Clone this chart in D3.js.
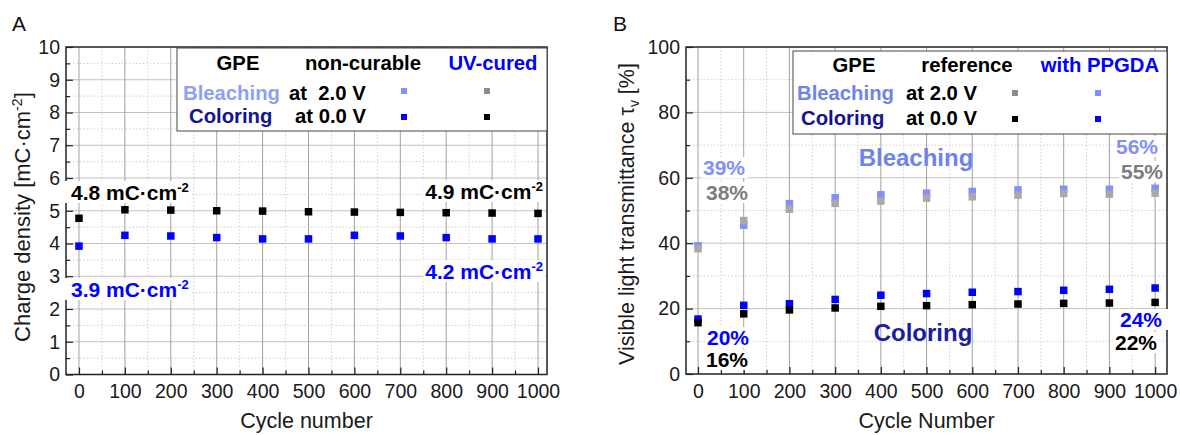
<!DOCTYPE html>
<html><head><meta charset="utf-8">
<script src="https://cdn.jsdelivr.net/npm/d3@7"></script>
<style>
body{margin:0;background:#fff}
svg{display:block}
text{font-family:"Liberation Sans",Arial,Helvetica,sans-serif}
</style>
</head><body>
<svg id="c" width="1180" height="435"></svg>
<script>
// ---------- DATA ----------
const cycles = [0,100,200,300,400,500,600,700,800,900,1000];
const xTickLabels = ["0","100","200","300","400","500","600","700","800","900","1000"];
// Panel A: charge density [mC/cm2]
const chargeUVCured = [4.77,5.03,5.02,5.00,4.99,4.97,4.96,4.95,4.94,4.93,4.92];      // black (coloring, UV-cured)
const chargeNonCurable = [3.92,4.25,4.23,4.18,4.14,4.14,4.25,4.23,4.18,4.14,4.14];   // blue (coloring, non-curable)
const yTicksA = [0,1,2,3,4,5,6,7,8,9,10];
// Panel B: visible light transmittance [%]
const bleachPPGDA = [39.2,45.5,52.1,53.9,54.8,55.3,55.8,56.3,56.5,56.5,56.8];      // light blue
const bleachRef   = [38.3,46.9,50.4,52.2,52.9,53.8,54.2,54.7,55.2,55.0,55.3];      // gray
const colorPPGDA  = [16.8,21.0,21.5,22.8,24.1,24.6,25.0,25.2,25.6,25.9,26.3];      // blue
const colorRef    = [15.7,18.4,19.6,20.2,20.7,20.9,21.2,21.4,21.6,21.7,21.9];      // black
const yTicksB = [0,20,40,60,80,100];

// ---------- STYLE ----------
const C = {
  black:"#000000", blue:"#0000ff", lightBlue:"#8190fa", gray:"#a9a9a9",
  navy:"#14148c", legBleachA:"#8d9ff7", legBleachB:"#6f83ee", grayText:"#7d7d7d",
  axis:"#222"
};
const FONT_TICK = 19.5, FONT_TITLE = 21.5, FONT_LEG = 20.3, FONT_ANN = 21;
const svg = d3.select("#c");

function panel(o){
  const g = svg.append("g");
  const x = d3.scaleLinear().domain(o.xDom).range([o.L, o.R]);
  const y = d3.scaleLinear().domain(o.yDom).range([o.B, o.T]);
  const minorX = d3.range(50, 1000, 100);
  const minorY = o.yMinor;
  g.append("g").selectAll("line").data(minorX).join("line")
    .attr("x1", d=>x(d)).attr("x2", d=>x(d)).attr("y1", o.T).attr("y2", o.B)
    .attr("stroke", "#d0d0d0").attr("stroke-dasharray","1.5,2").attr("stroke-width",1);
  g.append("g").selectAll("line").data(minorY).join("line")
    .attr("y1", d=>y(d)).attr("y2", d=>y(d)).attr("x1", o.L).attr("x2", o.R)
    .attr("stroke", "#d0d0d0").attr("stroke-dasharray","1.5,2").attr("stroke-width",1);
  g.append("g").selectAll("line").data(o.yTicks.slice(1,-1)).join("line")
    .attr("y1", d=>y(d)).attr("y2", d=>y(d)).attr("x1", o.L).attr("x2", o.R)
    .attr("stroke", "#c2c2c2").attr("stroke-width",1);
  g.append("g").selectAll("line").data(cycles).join("line")
    .attr("x1", d=>x(d)).attr("x2", d=>x(d)).attr("y1", o.T).attr("y2", o.B)
    .attr("stroke", "#a2a2a2").attr("stroke-width",1);

  const xa = g.append("g").attr("transform",`translate(0,${o.B})`)
    .call(d3.axisBottom(x).tickValues(cycles).tickFormat((d,i)=>xTickLabels[i]).tickSize(-7).tickSizeOuter(0).tickPadding(10));
  const xm = g.append("g").attr("transform",`translate(0,${o.B})`)
    .call(d3.axisBottom(x).tickValues(minorX).tickFormat("").tickSize(-4).tickSizeOuter(0));
  const ya = g.append("g").attr("transform",`translate(${o.L},0)`)
    .call(d3.axisLeft(y).tickValues(o.yTicks).tickSize(-7).tickSizeOuter(0).tickPadding(6));
  const ym = g.append("g").attr("transform",`translate(${o.L},0)`)
    .call(d3.axisLeft(y).tickValues(minorY).tickFormat("").tickSize(-4).tickSizeOuter(0));
  [xa,xm,ya,ym].forEach(a=>{
    a.selectAll("path.domain").remove();
    a.selectAll(".tick line").attr("stroke", C.axis).attr("stroke-width",1.2);
    a.selectAll("text").attr("font-size", FONT_TICK).attr("fill","#1a1a1a")
      .attr("font-family","'Liberation Sans',Arial,sans-serif");
  });
  g.append("rect").attr("x",o.L).attr("y",o.T).attr("width",o.R-o.L).attr("height",o.B-o.T)
    .attr("fill","none").attr("stroke",C.axis).attr("stroke-width",1.5);
  return {g,x,y};
}

function points(p, vals, color, size){
  p.g.append("g").selectAll("rect").data(vals).join("rect")
    .attr("x",(d,i)=>p.x(cycles[i])-size/2).attr("y",d=>p.y(d)-size/2)
    .attr("width",size).attr("height",size).attr("fill",color);
}

function label(g, xp, yp, main, sup, color, anchor, size, bg){
  const t = g.append("text").attr("x",xp).attr("y",yp).attr("text-anchor",anchor)
    .attr("font-size",size).attr("font-weight","bold").attr("fill",color);
  t.append("tspan").text(main);
  if (sup){ t.append("tspan").text(sup).attr("dy",-8).attr("font-size",size*0.62); }
  if (bg){
    const b = t.node().getBBox();
    g.insert("rect", ()=>t.node())
      .attr("x",b.x-bg[0]).attr("y",b.y+1).attr("width",b.width+bg[0]+bg[1]).attr("height",b.height-2)
      .attr("fill","#fff");
  }
  return t;
}

// ---------- PANEL A ----------
const A = panel({L:66,R:547,T:47,B:374.5,xDom:[-28.3,1019.6],yDom:[0,10],
  yTicks:yTicksA, yMinor:d3.range(0.5,10,1)});
points(A, chargeNonCurable, C.blue, 7.5);
points(A, chargeUVCured, C.black, 7.5);

label(A.g, 71, 200, "4.8 mC·cm", "-2", C.black, "start", FONT_ANN, [6,2]);
label(A.g, 543, 199, "4.9 mC·cm", "-2", C.black, "end", FONT_ANN, [2,2]);
label(A.g, 71, 297, "3.9 mC·cm", "-2", C.blue, "start", FONT_ANN, [6,2]);
label(A.g, 543, 279, "4.2 mC·cm", "-2", C.blue, "end", FONT_ANN, [2,2]);

// legend A
(function(){
  const g = A.g.append("g");
  g.append("rect").attr("x",177).attr("y",48).attr("width",547-177).attr("height",131-48)
    .attr("fill","#fff").attr("stroke","#444").attr("stroke-width",1);
  const T = (x,y,s,c,a)=>g.append("text").attr("x",x).attr("y",y).text(s).attr("fill",c)
    .attr("text-anchor",a).attr("font-size",FONT_LEG).attr("font-weight","bold");
  T(238,70,"GPE",C.black,"middle");
  T(363,70,"non-curable",C.black,"middle");
  T(493,70,"UV-cured",C.blue,"middle");
  T(183,100,"Bleaching",C.legBleachA,"start");
  T(289,100,"at  2.0 V",C.black,"start").style("white-space","pre");
  T(189,123,"Coloring",C.navy,"start");
  T(295,123,"at 0.0 V",C.black,"start");
  const S=(x,y,c)=>g.append("rect").attr("x",x-3).attr("y",y-3).attr("width",6).attr("height",6).attr("fill",c);
  S(404,91,C.lightBlue); S(487,91,"#8c8c8c"); S(404,117,C.blue); S(487,117,C.black);
})();

// ---------- PANEL B ----------
const B = panel({L:686,R:1167,T:47,B:374,xDom:[-26.3,1026],yDom:[0,100],
  yTicks:yTicksB, yMinor:d3.range(10,100,20)});
points(B, bleachPPGDA, C.lightBlue, 7.5);
points(B, bleachRef, C.gray, 7.5);
points(B, colorPPGDA, C.blue, 7.5);
points(B, colorRef, C.black, 7.5);

label(B.g, 703, 175, "39%", null, C.lightBlue, "start", FONT_ANN, [2,2]);
label(B.g, 706, 200, "38%", null, C.grayText, "start", FONT_ANN, [2,2]);
label(B.g, 1158, 154, "56%", null, C.lightBlue, "end", FONT_ANN, [2,2]);
label(B.g, 1163, 179, "55%", null, C.grayText, "end", FONT_ANN, [2,2]);
label(B.g, 707, 345, "20%", null, C.blue, "start", FONT_ANN, [2,2]);
label(B.g, 706, 367, "16%", null, C.black, "start", FONT_ANN, [2,2]);
label(B.g, 1162, 327, "24%", null, C.blue, "end", FONT_ANN, [3,8]);
label(B.g, 1157, 350, "22%", null, C.black, "end", FONT_ANN, [2,2]);
B.g.append("text").attr("x",916).attr("y",166).attr("text-anchor","middle").text("Bleaching")
  .attr("font-size",24).attr("font-weight","bold").attr("fill",C.legBleachB);
B.g.append("text").attr("x",923).attr("y",341).attr("text-anchor","middle").text("Coloring")
  .attr("font-size",24).attr("font-weight","bold").attr("fill","#1c1ca0");

// legend B
(function(){
  const g = B.g.append("g");
  g.append("rect").attr("x",793).attr("y",51).attr("width",1167-793).attr("height",134-51)
    .attr("fill","#fff").attr("stroke","#444").attr("stroke-width",1);
  const T = (x,y,s,c,a)=>g.append("text").attr("x",x).attr("y",y).text(s).attr("fill",c)
    .attr("text-anchor",a).attr("font-size",FONT_LEG).attr("font-weight","bold");
  T(854,72,"GPE",C.black,"middle");
  T(967,72,"reference",C.black,"middle");
  T(1100,72,"with PPGDA",C.blue,"middle");
  T(797,100,"Bleaching",C.legBleachB,"start");
  T(906,100,"at 2.0 V",C.black,"start");
  T(801,125,"Coloring",C.navy,"start");
  T(906,125,"at 0.0 V",C.black,"start");
  const S=(x,y,c)=>g.append("rect").attr("x",x-3).attr("y",y-3).attr("width",6).attr("height",6).attr("fill",c);
  S(1015,93,"#8c8c8c"); S(1098,93,C.lightBlue); S(1015,119,C.black); S(1098,119,C.blue);
})();

// ---------- TITLES ----------
svg.append("text").attr("x",12).attr("y",31).text("A").attr("font-size",21).attr("fill","#111");
svg.append("text").attr("x",613).attr("y",31).text("B").attr("font-size",21).attr("fill","#111");
svg.append("text").attr("x",306.5).attr("y",428).attr("text-anchor","middle").text("Cycle number")
  .attr("font-size",FONT_TITLE).attr("fill","#1a1a1a");
svg.append("text").attr("x",926.5).attr("y",428).attr("text-anchor","middle").text("Cycle Number")
  .attr("font-size",FONT_TITLE).attr("fill","#1a1a1a");
(function(){
  const t = svg.append("text").attr("transform","translate(30,217) rotate(-90)").attr("text-anchor","middle")
    .attr("font-size",22).attr("fill","#1a1a1a");
  t.append("tspan").text("Charge density [mC·cm");
  t.append("tspan").text("-2").attr("dy",-8).attr("font-size",22*0.65);
  t.append("tspan").text("]").attr("dy",8);
  const t2 = svg.append("text").attr("transform","translate(634,214) rotate(-90)").attr("text-anchor","middle")
    .attr("font-size",FONT_TITLE).attr("fill","#1a1a1a");
  t2.append("tspan").text("Visible light transmittance τ");
  t2.append("tspan").text("v").attr("dy",5).attr("font-size",FONT_TITLE*0.65);
  t2.append("tspan").text(" [%]").attr("dy",-5);
})();
</script>
</body></html>
